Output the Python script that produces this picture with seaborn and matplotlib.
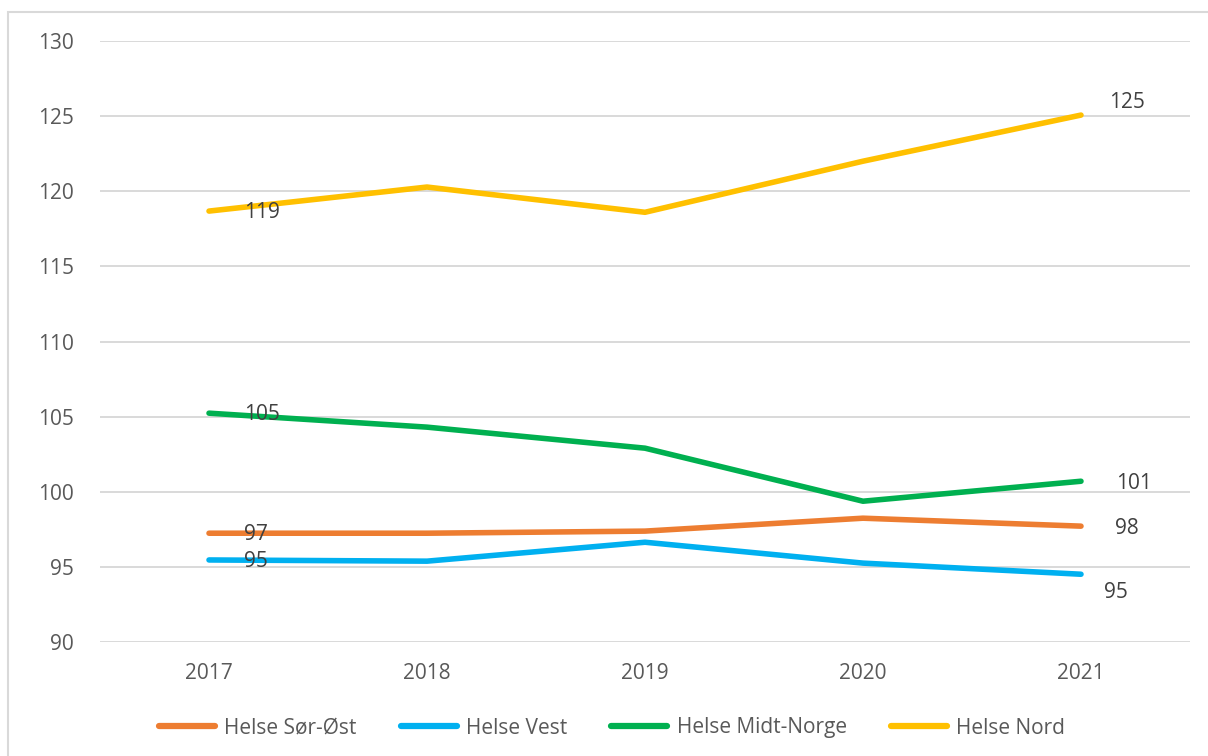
import matplotlib
matplotlib.use("Agg")
import matplotlib.pyplot as plt
import seaborn as sns
import pandas as pd
from matplotlib.patches import Rectangle

years = [2017, 2018, 2019, 2020, 2021]
sor_ost = [97.24, 97.24, 97.38, 98.24, 97.71]
vest = [95.46, 95.38, 96.64, 95.25, 94.51]
midt_norge = [105.23, 104.3, 102.9, 99.37, 100.7]
nord = [118.68, 120.28, 118.6, 122.0, 125.07]
series_names = ["Helse Sør-Øst", "Helse Vest", "Helse Midt-Norge", "Helse Nord"]
colors = ["#ED7D31", "#00B0F0", "#00B050", "#FFC000"]
y_ticks = [90, 95, 100, 105, 110, 115, 120, 125, 130]

rows = []
for name, vals in zip(series_names, [sor_ost, vest, midt_norge, nord]):
    for yr, v in zip(years, vals):
        rows.append({"År": yr, "Verdi": v, "Serie": name})
df = pd.DataFrame(rows)

sns.set_style("white")
plt.rcParams["font.family"] = ["Open Sans", "DejaVu Sans"]

fig = plt.figure(figsize=(12.08, 7.56), dpi=100)
ax = fig.add_axes([100/1208, 1-642/756, (1190-100)/1208, (642-41)/756])

# figure border
fig.patches.append(Rectangle((8/1208, -0.05), 1.2, (756-12)/756 + 0.05, transform=fig.transFigure,
                             fill=False, edgecolor="#d9d9d9", linewidth=1.5, zorder=0))

for y in y_ticks:
    ax.axhline(y, color="#d9d9d9", linewidth=1.4, zorder=0)

sns.lineplot(data=df, x="År", y="Verdi", hue="Serie", hue_order=series_names,
             palette=colors, linewidth=4.0, ax=ax, legend=True,
             solid_capstyle="round")

ax.set_xlim(2016.5, 2021.5)
ax.set_ylim(90, 130)
ax.set_xticks(years)
ax.set_xticklabels([str(y) for y in years])
ax.set_yticks(y_ticks)
ax.set_xlabel("")
ax.set_ylabel("")
for s in ax.spines.values():
    s.set_visible(False)
ax.tick_params(axis="both", length=0, labelsize=15, labelcolor="#595959")
ax.tick_params(axis="y", pad=19)
ax.tick_params(axis="x", pad=15)

lab_col = "#404040"
# start labels (right of point)
for vals in [sor_ost, vest, midt_norge, nord]:
    ax.annotate(f"{vals[0]:.0f}", (years[0], vals[0]), xytext=(35*0.72, -1.5*0.72),
                textcoords="offset points", ha="left", va="center",
                fontsize=15, color=lab_col)
# end labels
end_offsets = {"Helse Sør-Øst": (34, -2), "Helse Vest": (23, -18),
               "Helse Midt-Norge": (35, -2), "Helse Nord": (28, 13)}
for name, vals in zip(series_names, [sor_ost, vest, midt_norge, nord]):
    dx, dy = end_offsets[name]
    ax.annotate(f"{vals[-1]:.0f}", (years[-1], vals[-1]), xytext=(dx*0.72, dy*0.72),
                textcoords="offset points", ha="left", va="center",
                fontsize=15, color=lab_col)

leg = ax.legend(loc="center", bbox_to_anchor=(612/1208, 1-728/756),
                bbox_transform=fig.transFigure, ncol=4,
                frameon=False, fontsize=15, handlelength=2.7, handletextpad=0.45,
                columnspacing=2.1)
for h in leg.get_lines():
    h.set_linewidth(4.5)
    h.set_solid_capstyle("round")
for t in leg.get_texts():
    t.set_color("#595959")

fig.savefig("out.png", dpi=100)
